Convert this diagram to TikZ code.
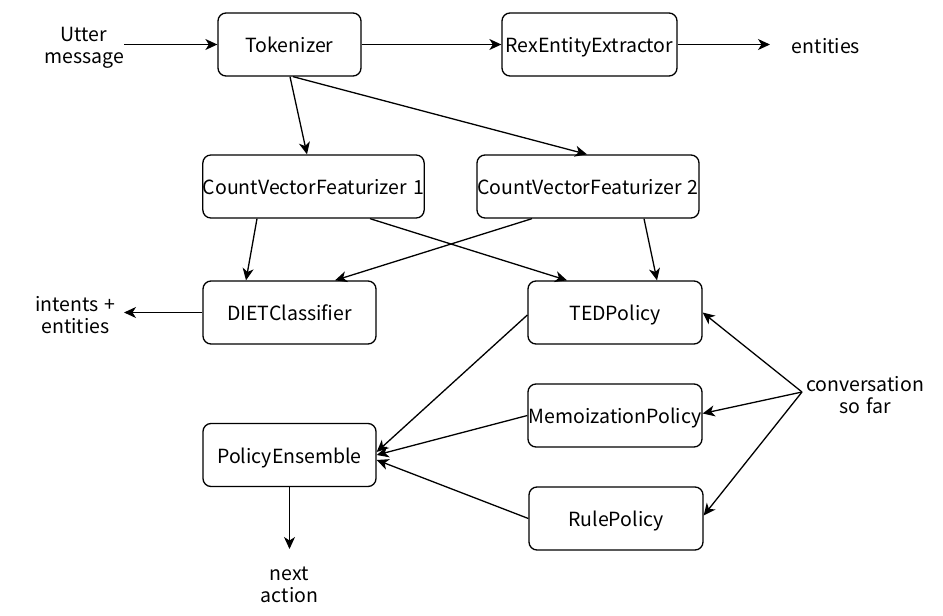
\documentclass[tikz,border=0pt]{standalone}
\usepackage{fontspec}
\setmainfont[WordSpace=1.4]{Noto Sans CJK SC}
\usetikzlibrary{arrows.meta}
\begin{document}
\begin{tikzpicture}[x=1pt,y=-1pt,
  box/.style={draw, rounded corners=8pt, line width=1.3pt, minimum height=63pt, inner sep=0pt, text height=16pt, text depth=0pt, font=\fontsize{19.5}{22}\selectfont},
  lbl/.style={align=center, inner sep=0pt, font=\fontsize{19.5}{22}\selectfont},
  arr/.style={-{Stealth[length=12pt,width=11pt,inset=3.5pt]}, line width=1.3pt}]
\useasboundingbox (0,0) rectangle (943,616);
\node[box, minimum width=143pt] (tok) at (289.5,44.5) {Tokenizer};
\node[box, minimum width=175pt] (rex) at (589.5,44.5) {RexEntityExtractor};
\node[box, minimum width=221pt] (cvf1) at (313.5,186.5) {CountVectorFeaturizer 1};
\node[box, minimum width=222pt] (cvf2) at (588,186.5) {CountVectorFeaturizer 2};
\node[box, minimum width=173pt] (diet) at (289.5,312.5) {DIETClassifier};
\node[box, minimum width=174pt] (ted) at (615,312.5) {TEDPolicy};
\node[box, minimum width=174pt] (memo) at (615,415.5) {MemoizationPolicy};
\node[box, minimum width=174pt] (rule) at (616,518.5) {RulePolicy};
\node[box, minimum width=173pt] (pe) at (289.5,455) {PolicyEnsemble};

\node[lbl] (utter) at (84,48) {Utter\\message};
\node[lbl, text height=16pt, text depth=0pt] (ent) at (826,45) {entities};
\node[lbl] (intents) at (75.5,315) {intents +\\entities};
\node[lbl] (next) at (289.5,585) {next\\action};
\node[lbl] (conv) at (865,395) {conversation\\so far};

\coordinate (uttpt) at (124,44.5);
\coordinate (entpt) at (770,44.5);
\coordinate (intpt) at (124,312.5);
\coordinate (nextpt) at (289.5,549);
\coordinate (convpt) at (802,392);

\draw[arr] (uttpt) -- (tok.west);
\draw[arr] (tok.east) -- (rex.west);
\draw[arr] (rex.east) -- (entpt);
\draw[arr] ([xshift=0.5pt]tok.south) -- ([xshift=-6.5pt]cvf1.north);
\draw[arr] ([xshift=3.5pt]tok.south) -- ([xshift=-1pt]cvf2.north);
\draw[arr] ([xshift=-56.5pt]cvf1.south) -- ([xshift=-43.5pt]diet.north);
\draw[arr] ([xshift=-56pt]cvf2.south) -- ([xshift=45.5pt]diet.north);
\draw[arr] ([xshift=56.5pt]cvf1.south) -- ([xshift=-48pt]ted.north);
\draw[arr] ([xshift=56pt]cvf2.south) -- ([xshift=42pt]ted.north);
\draw[arr] (diet.west) -- (intpt);
\draw[arr] (pe.south) -- (nextpt);
\draw[arr] ([yshift=-2.5pt]ted.west) -- ([yshift=3pt]pe.east);
\draw[arr] (memo.west) -- (pe.east);
\draw[arr] (rule.west) -- ([yshift=-5pt]pe.east);
\draw[arr] (convpt) -- (ted.east);
\draw[arr] (convpt) -- ([yshift=2pt]memo.east);
\draw[arr] (convpt) -- ([yshift=3pt]rule.east);
\end{tikzpicture}
\end{document}
